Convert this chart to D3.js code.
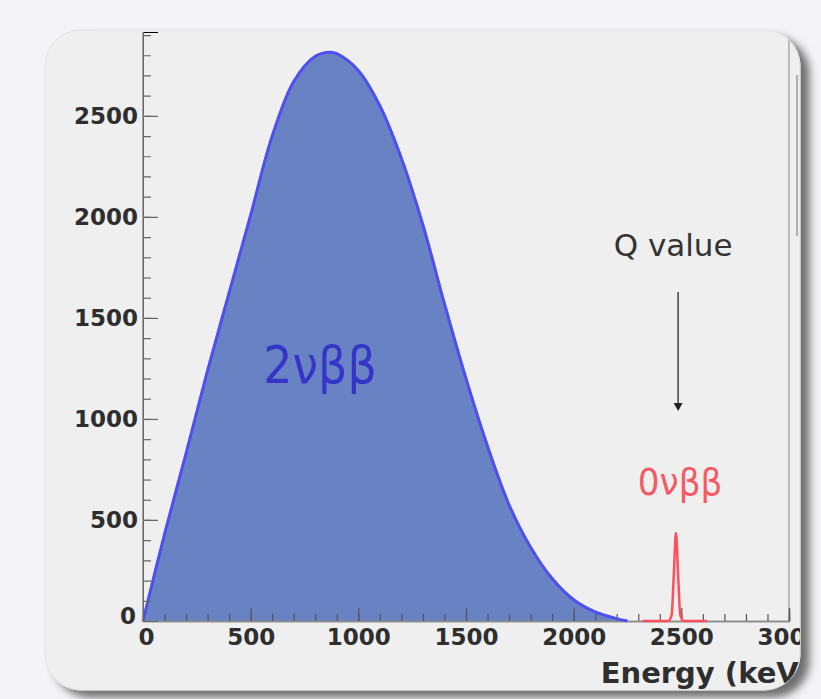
<!DOCTYPE html>
<html>
<head>
<meta charset="utf-8">
<script src="https://cdn.jsdelivr.net/npm/d3@7"></script>
<style>
  html, body { margin: 0; padding: 0; background: #f4f4f6; }
  svg { display: block; }
</style>
</head>
<body>
<svg id="chart" width="821" height="699"></svg>
<script>
// 2νββ summed-electron energy spectrum (keV, counts)
const energy2nu = [0, 100, 200, 300, 400, 500, 600, 700, 800, 870, 900, 1000, 1100, 1200,
                   1300, 1400, 1500, 1600, 1700, 1800, 1900, 2000, 2100, 2200, 2250];
const counts2nu = [0, 430, 830, 1240, 1625, 2010, 2400, 2670, 2795, 2815, 2808, 2725, 2550, 2290,
                   1960, 1570, 1200, 865, 575, 365, 210, 105, 45, 12, 0];

// 0νββ peak at the Q value
const energy0nu = [2320, 2440, 2455, 2465, 2475, 2485, 2495, 2510, 2620];
const counts0nu = [0, 0, 30, 230, 435, 230, 30, 0, 0];

const xTicks = [0, 500, 1000, 1500, 2000, 2500, 3000];
const yTicks = [0, 500, 1000, 1500, 2000, 2500];
const xMinor = d3.range(0, 3001, 100);
const yMinor = d3.range(0, 2901, 100);
const qValue = 2485;

const svg = d3.select("#chart");
const defs = svg.append("defs");

// panel shadow
const shadow = defs.append("filter").attr("id", "shadow")
  .attr("x", "-5%").attr("y", "-5%").attr("width", "115%").attr("height", "115%");
shadow.append("feDropShadow")
  .attr("dx", 9).attr("dy", 7).attr("stdDeviation", 4)
  .attr("flood-color", "#000").attr("flood-opacity", 0.55);

const panel = { x: 45, y: 30, w: 755, h: 660, r: 36 };

defs.append("clipPath").attr("id", "panelClip")
  .append("rect")
  .attr("x", panel.x).attr("y", panel.y).attr("width", panel.w).attr("height", panel.h)
  .attr("rx", panel.r);

svg.append("rect").attr("width", 821).attr("height", 699).attr("fill", "#f4f4f6");

svg.append("rect")
  .attr("x", panel.x).attr("y", panel.y).attr("width", panel.w).attr("height", panel.h)
  .attr("rx", panel.r)
  .attr("fill", "#efefef")
  .attr("stroke", "#e2e2e2")
  .attr("filter", "url(#shadow)");

const g = svg.append("g").attr("clip-path", "url(#panelClip)");

const x = d3.scaleLinear().domain([0, 3000]).range([143, 789]);
const y = d3.scaleLinear().domain([0, 2915]).range([621, 32]);

// frame
g.append("line").attr("x1", x(3000)).attr("x2", x(3000)).attr("y1", y(2915)).attr("y2", y(0))
  .attr("stroke", "#a8a8a8").attr("stroke-width", 1.5);
g.append("line").attr("x1", 797).attr("x2", 797).attr("y1", 75).attr("y2", 236)
  .attr("stroke", "#b0b0b0").attr("stroke-width", 2);

const smooth = d3.curveCatmullRom.alpha(0.5);

// 2νββ filled spectrum
const pts2 = energy2nu.map((e, i) => [e, counts2nu[i]]);
g.append("path").datum(pts2)
  .attr("fill", "#6882c4")
  .attr("d", d3.area().x(d => x(d[0])).y0(y(0)).y1(d => y(d[1])).curve(smooth));

// x-axis ticks (pointing up into the plot)
const xAxisG = g.append("g").attr("transform", `translate(0,${y(0)})`);
xAxisG.call(d3.axisTop(x).tickValues(xMinor).tickSize(7).tickFormat(""));
xAxisG.append("g").call(d3.axisTop(x).tickValues(xTicks).tickSize(13).tickFormat(""));
xAxisG.selectAll("path").attr("stroke", "#8a8a8a").attr("stroke-width", 1.5);
xAxisG.selectAll("line").attr("stroke", "#555").attr("stroke-width", 1.2);

g.append("path").datum(pts2)
  .attr("fill", "none")
  .attr("stroke", "#4f4ff0")
  .attr("stroke-width", 3)
  .attr("d", d3.line().x(d => x(d[0])).y(d => y(d[1])).curve(smooth));

// 0νββ peak
const pts0 = energy0nu.map((e, i) => [e, counts0nu[i]]);
g.append("path").datum(pts0)
  .attr("fill", "none")
  .attr("stroke", "#ff4f5c")
  .attr("stroke-width", 2.5)
  .attr("d", d3.line().x(d => x(d[0])).y(d => y(d[1])).curve(d3.curveMonotoneX));

// y-axis ticks (pointing right into the plot)
const yAxisG = g.append("g").attr("transform", `translate(${x(0)},0)`);
yAxisG.call(d3.axisRight(y).tickValues(yMinor).tickSize(8).tickFormat(""));
yAxisG.append("g").call(d3.axisRight(y).tickValues(yTicks).tickSize(15).tickFormat(""));
yAxisG.select("path.domain").remove();
yAxisG.selectAll("line").attr("stroke", "#666").attr("stroke-width", 1.2);
g.append("line").attr("x1", x(0)).attr("x2", x(0)).attr("y1", y(2915)).attr("y2", y(0))
  .attr("stroke", "#8a8a8a").attr("stroke-width", 1.5);

// tick labels
const labelFont = "'DejaVu Sans', sans-serif";
const fmt = d3.format("d");
const yLab = g.append("g").attr("transform", `translate(${x(0)},0)`)
  .call(d3.axisLeft(y).tickValues(yTicks).tickSize(0).tickPadding(5).tickFormat(fmt));
yLab.select("path.domain").remove();
yLab.selectAll("text")
  .attr("font-family", labelFont).attr("font-weight", "bold").attr("font-size", 23)
  .attr("fill", "#2e2e2e");
yLab.selectAll(".tick").filter(d => d === 0).select("text").attr("dy", "0.1em").attr("dx", -2);

const xLab = g.append("g").attr("transform", `translate(0,${y(0)})`)
  .call(d3.axisBottom(x).tickValues(xTicks).tickSize(0).tickPadding(8).tickFormat(fmt));
xLab.select("path.domain").remove();
xLab.selectAll("text")
  .attr("font-family", labelFont).attr("font-weight", "bold").attr("font-size", 23)
  .attr("fill", "#2e2e2e");
xLab.selectAll(".tick").filter(d => d === 0).select("text").attr("dx", 3);

g.append("text")
  .attr("x", 812).attr("y", 683)
  .attr("text-anchor", "end")
  .attr("font-family", labelFont).attr("font-weight", "bold").attr("font-size", 29)
  .attr("fill", "#2e2e2e")
  .text("Energy (keV)");

// annotations
const condensed = "'DejaVu Sans Condensed', 'DejaVu Sans', sans-serif";
g.append("text")
  .attr("x", 320).attr("y", 383)
  .attr("text-anchor", "middle")
  .attr("font-family", condensed).attr("font-stretch", "condensed").attr("font-size", 51)
  .attr("fill", "#3535c8")
  .text("2νββ");

g.append("text")
  .attr("x", x(qValue) + 2).attr("y", 495)
  .attr("text-anchor", "middle")
  .attr("font-family", condensed).attr("font-stretch", "condensed").attr("font-size", 38)
  .attr("fill", "#f45a63")
  .text("0νββ");

g.append("text")
  .attr("x", x(qValue) - 5).attr("y", 256)
  .attr("text-anchor", "middle")
  .attr("font-family", "'DejaVu Sans', sans-serif").attr("font-size", 31)
  .attr("fill", "#333")
  .text("Q value");

g.append("line")
  .attr("x1", x(qValue)).attr("x2", x(qValue)).attr("y1", 292).attr("y2", 404)
  .attr("stroke", "#444").attr("stroke-width", 1.5);
g.append("path")
  .attr("d", `M${x(qValue) - 4.5},403 L${x(qValue) + 4.5},403 L${x(qValue)},411 Z`)
  .attr("fill", "#222");
</script>
</body>
</html>
